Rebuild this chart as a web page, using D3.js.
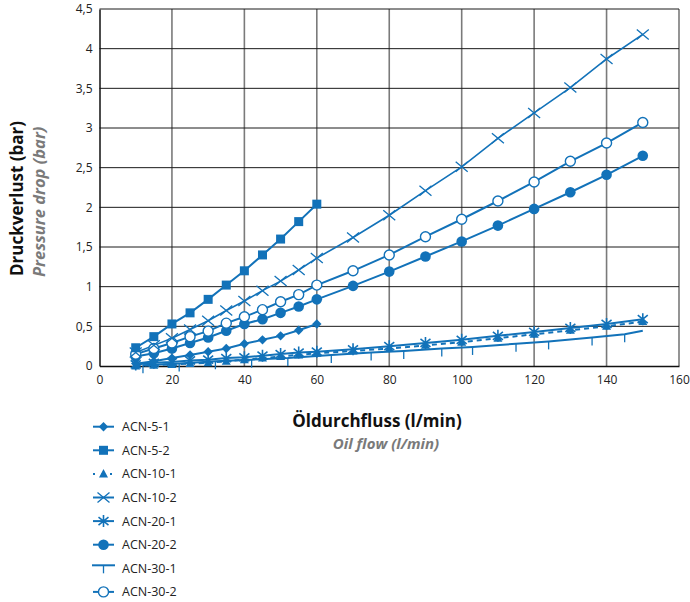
<!DOCTYPE html>
<html><head><meta charset="utf-8">
<script src="https://cdn.jsdelivr.net/npm/d3@7"></script>
<style>body{margin:0;background:#fff}svg{display:block}</style>
</head><body>
<script>
// ---- data ----
const xTicks = [0,20,40,60,80,100,120,140,160];
const yTicks = [0,0.5,1,1.5,2,2.5,3,3.5,4,4.5];
const yTickLabels = ["0","0,5","1","1,5","2","2,5","3","3,5","4","4,5"];

const xFine = [10,15,20,25,30,35,40,45,50,55,60];
const xLong = [10,15,20,25,30,35,40,45,50,55,60,70,80,90,100,110,120,130,140,150];

const acn51  = [0.03,0.06,0.10,0.14,0.18,0.22,0.28,0.33,0.38,0.45,0.53];
const acn52  = [0.23,0.37,0.53,0.67,0.84,1.02,1.20,1.40,1.60,1.82,2.04];
const acn101 = [0.00,0.01,0.02,0.03,0.04,0.06,0.08,0.10,0.12,0.14,0.16,0.19,0.22,0.26,0.30,0.35,0.40,0.45,0.50,0.56];
const acn102 = [0.17,0.26,0.35,0.46,0.57,0.70,0.82,0.95,1.07,1.21,1.36,1.62,1.90,2.21,2.51,2.87,3.19,3.51,3.87,4.18];
const acn201 = [0.02,0.04,0.05,0.07,0.08,0.10,0.11,0.13,0.15,0.17,0.18,0.21,0.25,0.29,0.33,0.38,0.43,0.48,0.53,0.59];
const acn202 = [0.12,0.16,0.22,0.29,0.36,0.445,0.53,0.59,0.67,0.75,0.84,1.01,1.19,1.38,1.57,1.77,1.98,2.19,2.41,2.65];
const acn301X = [12,22,32,42,52,64,75,84,94.5,103,115,124,136,145,150];
const acn301  = [0.01,0.03,0.06,0.08,0.10,0.14,0.17,0.19,0.22,0.24,0.28,0.31,0.36,0.40,0.445];
const acn302 = [0.15,0.22,0.29,0.37,0.44,0.54,0.62,0.71,0.81,0.90,1.02,1.20,1.40,1.63,1.85,2.08,2.32,2.58,2.81,3.07];

const seriesNames = ["ACN-5-1","ACN-5-2","ACN-10-1","ACN-10-2","ACN-20-1","ACN-20-2","ACN-30-1","ACN-30-2"];

// ---- setup ----
const W=690,H=602, blue="#1272b9";
const svg=d3.select("body").append("svg").attr("width",W).attr("height",H);
const x=d3.scaleLinear().domain([0,160]).range([99.5,679]);
const y=d3.scaleLinear().domain([0,4.5]).range([366,9]);

// grid
const g=svg.append("g");
g.selectAll(".vg").data(xTicks.slice(1)).enter().append("line")
 .attr("x1",d=>x(d)).attr("x2",d=>x(d)).attr("y1",y(0)).attr("y2",y(4.5))
 .attr("stroke","#7a7a7a").attr("stroke-width",1.6);
g.selectAll(".hg").data(yTicks.slice(1)).enter().append("line")
 .attr("x1",x(0)).attr("x2",x(160)).attr("y1",d=>y(d)).attr("y2",d=>y(d))
 .attr("stroke","#1a1a1a").attr("stroke-width",1);
// axes
const xAxis=d3.axisBottom(x).tickValues(xTicks).tickSize(0).tickPadding(9).tickFormat(d3.format("d"));
const yAxis=d3.axisLeft(y).tickValues(yTicks).tickSize(0).tickPadding(7).tickFormat((d,i)=>yTickLabels[i]);
const ax=svg.append("g").attr("transform",`translate(0,${y(0)})`).call(xAxis);
const ay=svg.append("g").attr("transform",`translate(${x(0)},0)`).call(yAxis);
[ax,ay].forEach(a=>{a.select(".domain").attr("stroke","#111").attr("stroke-width",1.5);
 a.selectAll("text").attr("font-family","'Open Sans',sans-serif").attr("font-size",12).attr("fill","#222");});

// titles
svg.append("text").attr("x",377).attr("y",427).attr("text-anchor","middle")
 .attr("font-family","'Open Sans',sans-serif").attr("font-weight","bold").attr("font-size",17).attr("fill","#111")
 .text("Öldurchfluss (l/min)");
svg.append("text").attr("x",386).attr("y",449).attr("text-anchor","middle")
 .attr("font-family","'Open Sans',sans-serif").attr("font-weight","bold").attr("font-style","italic").attr("font-size",15).attr("fill","#7a7a7a")
 .text("Oil flow (l/min)");
svg.append("text").attr("transform","translate(23,276) rotate(-90)").attr("text-anchor","start")
 .attr("font-family","'Open Sans',sans-serif").attr("font-weight","bold").attr("font-size",17).attr("fill","#111")
 .text("Druckverlust (bar)");
svg.append("text").attr("transform","translate(45,277) rotate(-90)").attr("text-anchor","start")
 .attr("font-family","'Open Sans',sans-serif").attr("font-weight","bold").attr("font-style","italic").attr("font-size",16.5).attr("fill","#7a7a7a")
 .text("Pressure drop (bar)");

// markers
function marker(sel,type){
  if(type==="diamond") sel.append("path").attr("d",d3.symbol(d3.symbolSquare,44)()).attr("transform","rotate(45)").attr("fill",blue);
  if(type==="square") sel.append("rect").attr("x",-4.5).attr("y",-4.5).attr("width",9).attr("height",9).attr("fill",blue);
  if(type==="triangle") sel.append("path").attr("d","M0,-5L4.5,3.5L-4.5,3.5Z").attr("fill",blue);
  if(type==="cross") sel.append("path").attr("d","M-6,-5L6,5M-6,5L6,-5").attr("stroke",blue).attr("stroke-width",1.3).attr("fill","none");
  if(type==="asterisk") sel.append("path").attr("d","M0,-6L0,6M-5,-4L5,4M-5,4L5,-4").attr("stroke",blue).attr("stroke-width",1.6).attr("fill","none");
  if(type==="dot") sel.append("circle").attr("r",5.3).attr("fill",blue);
  if(type==="ring") sel.append("circle").attr("r",5).attr("fill","#fff").attr("stroke",blue).attr("stroke-width",1.4);
  if(type==="tick") sel.append("path").attr("d","M0,0L0,8").attr("stroke",blue).attr("stroke-width",1.3);
}

const series=[
 {name:"ACN-30-1",xs:acn301X,ys:acn301,m:"tick",w:2,dash:null,skipLast:true},
 {name:"ACN-10-1",xs:xLong,ys:acn101,m:"triangle",w:2,dash:"5,4"},
 {name:"ACN-20-1",xs:xLong,ys:acn201,m:"asterisk",w:2,dash:null},
 {name:"ACN-5-1",xs:xFine,ys:acn51,m:"diamond",w:2,dash:null},
 {name:"ACN-20-2",xs:xLong,ys:acn202,m:"dot",w:2,dash:null},
 {name:"ACN-30-2",xs:xLong,ys:acn302,m:"ring",w:2,dash:null},
 {name:"ACN-10-2",xs:xLong,ys:acn102,m:"cross",w:1.6,dash:null},
 {name:"ACN-5-2",xs:xFine,ys:acn52,m:"square",w:2,dash:null},
];
const line=d3.line().x(d=>x(d[0])).y(d=>y(d[1]));
series.forEach(s=>{
  const pts=s.xs.map((v,i)=>[v,s.ys[i]]);
  svg.append("path").attr("d",line(pts)).attr("fill","none").attr("stroke",blue)
    .attr("stroke-width",s.w).attr("stroke-dasharray",s.dash);
});
series.forEach(s=>{
  let pts=s.xs.map((v,i)=>[v,s.ys[i]]);
  if(s.skipLast) pts=pts.slice(0,-1);
  pts.forEach(p=>{
    const gg=svg.append("g").attr("transform",`translate(${x(p[0])},${y(p[1])})`);
    marker(gg,s.m);
  });
});

// legend
const legendTypes={"ACN-5-1":"diamond","ACN-5-2":"square","ACN-10-1":"triangle","ACN-10-2":"cross","ACN-20-1":"asterisk","ACN-20-2":"dot","ACN-30-1":"tick","ACN-30-2":"ring"};
seriesNames.forEach((n,i)=>{
  const yy=426.7+i*23.6;
  const lg=svg.append("g");
  if(n==="ACN-10-1"){
    lg.append("line").attr("x1",93).attr("x2",114).attr("y1",yy).attr("y2",yy).attr("stroke",blue).attr("stroke-width",2).attr("stroke-dasharray","2,6.5");
  } else if(n==="ACN-30-1"){
    lg.append("line").attr("x1",92).attr("x2",115).attr("y1",yy-3).attr("y2",yy-3).attr("stroke",blue).attr("stroke-width",2);
  } else {
    lg.append("line").attr("x1",93).attr("x2",114).attr("y1",yy).attr("y2",yy).attr("stroke",blue).attr("stroke-width",2);
  }
  const mg=lg.append("g").attr("transform",`translate(103.5,${n==="ACN-30-1"?yy-3:yy})`);
  marker(mg,legendTypes[n]);
  lg.append("text").attr("x",122).attr("y",yy+4.5).attr("font-family","'Open Sans',sans-serif").attr("font-size",12.5).attr("fill","#222").text(n);
});
</script>
</body></html>
